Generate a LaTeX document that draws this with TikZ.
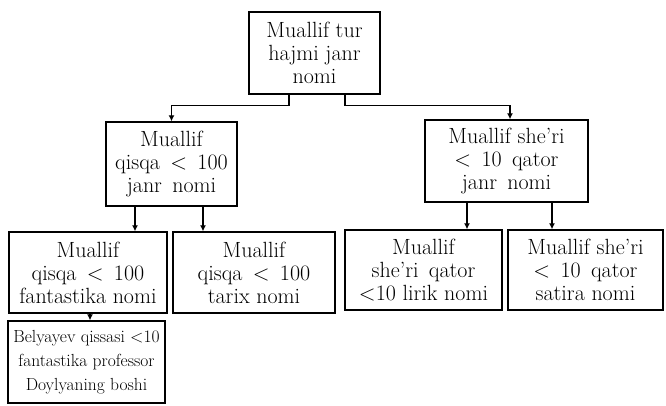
\documentclass[tikz,border=0pt]{standalone}
\usetikzlibrary{arrows.meta, positioning}

\begin{document}
\begin{tikzpicture}[
    x=1pt, y=-1pt,
    box/.style={
        rectangle,
        draw,
        line width=1.4pt,
        inner sep=1pt,
        align=center,
        font=\fontsize{22}{23}\selectfont
    },
    smallbox/.style={box, font=\fontsize{17.5}{24}\selectfont},
    treeArrow/.style={-{Latex[length=6pt, width=6pt]}, line width=1.3pt}
]
    \useasboundingbox (0,0) rectangle (666,405);

    % Top of the tree
    \node[box, minimum width=131pt, minimum height=82pt] (root) at (314.5, 53) {Muallif tur\\hajmi janr\\nomi};

    % Second level
    \node[box, minimum width=131pt, minimum height=84pt] (qisqa) at (171.5, 164) {Muallif\\qisqa \,<\, 100\\janr \,nomi};
    \node[box, minimum width=163pt, minimum height=82pt] (sheri) at (506.5, 161) {Muallif she'ri\\< \,10 \,qator\\janr \,nomi};

    % Third level
    \node[box, minimum width=158pt, minimum height=81pt] (fantastika) at (88, 272.5) {Muallif\\qisqa \,<\, 100\\fantastika nomi};
    \node[box, minimum width=162pt, minimum height=81pt] (tarix) at (254, 272.5) {Muallif\\qisqa \,<\, 100\\tarix nomi};
    \node[box, minimum width=157pt, minimum height=80pt] (lirik) at (423.5, 270) {Muallif\\she'ri \,qator\\<10 lirik nomi};
    \node[box, minimum width=155pt, minimum height=80pt] (satira) at (585.5, 270) {Muallif she'ri\\< \,10 \,qator\\satira nomi};

    % Leaf
    \node[smallbox, minimum width=157pt, minimum height=82pt] (belyayev) at (86.5, 362) {Belyayev qissasi <10\\fantastika professor\\Doylyaning boshi};

    % Connectors
    \draw[treeArrow] ([xshift=-25.5pt]root.south) -- ++(0,11) -| (qisqa.north);
    \draw[treeArrow] ([xshift=30.5pt]root.south) -- ++(0,11) -| ([xshift=3.5pt]sheri.north);

    \draw[treeArrow] ([xshift=-36.5pt]qisqa.south) -- ([xshift=-36.5pt]qisqa.south |- fantastika.north);
    \draw[treeArrow] ([xshift=31.5pt]qisqa.south) -- ([xshift=31.5pt]qisqa.south |- tarix.north);
    \draw[treeArrow] ([xshift=-39.5pt]sheri.south) -- ([xshift=-39.5pt]sheri.south |- lirik.north);
    \draw[treeArrow] ([xshift=45.5pt]sheri.south) -- ([xshift=45.5pt]sheri.south |- satira.north);

    \draw[treeArrow] ([xshift=2pt]fantastika.south) -- ([xshift=2pt]fantastika.south |- belyayev.north);
\end{tikzpicture}
\end{document}
